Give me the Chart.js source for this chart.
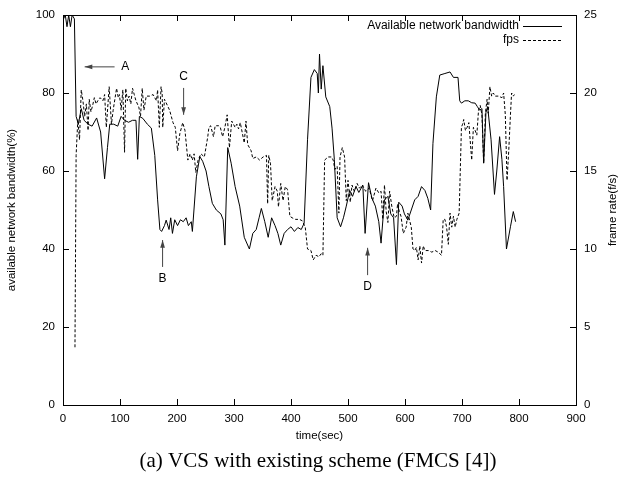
<!DOCTYPE html>
<html>
<head>
<meta charset="utf-8">
<script src="https://cdn.jsdelivr.net/npm/chart.js@4.4.0/dist/chart.umd.min.js"></script>
<style>
body{margin:0;background:#fff;}
#wrap{width:625px;height:479px;position:relative;}
</style>
</head>
<body>
<div id="wrap"><canvas id="vcsChart"></canvas></div>
<script>

// available network bandwidth (%) - solid line
const bwTime = [1,4,7,10,13,16,20,23,27,32,37,44,51,59,66,73,78,82,89,96,102,108,115,122,128,131,134,140,148,155,161,166,170,173,178,181,186,189,192,196,201,206,211,216,220,225,227,234,240,245,251,256,262,269,277,281,284,289,295,302,310,318,327,333,339,344,348,354,360,366,372,377,382,388,394,400,406,412,418,423,429,435,441,446,448,450,453,456,461,468,472,476,481,487,492,497,503,508,514,519,526,530,536,542,548,554,558,564,570,575,580,585,589,595,599,605,611,617,623,629,635,640,645,649,655,661,670,679,685,693,696,699,705,711,717,723,727,731,735,738,742,745,751,757,761,766,770,773,778,785,790,794];
const bwValues = [99,100,97,100,97,100,99,74,72,76,73,72,71.5,73.6,70,58,66,72,72,71.5,74,73,72.5,73,73,63,74,73.5,72,71,64,52.6,45,44.5,46,47.4,45,48,44,47.5,46,47.5,47,48,46,47,44.5,58.5,63.7,62.5,60,56,51.7,50,49,47.5,41,66,62,56,51,43,40,44,45,48,50.4,47,43,48,46,44,41,44,45,45.7,44.5,45.5,45,46.6,68,84,86,85,80,90,81,87,79,76.5,71,63,48,45.7,48,51,55,53.5,56,54.5,56.4,44,57,53,51,47,41.5,52.6,53.5,49,48,36,52,51,49,47.4,50,52.6,53.5,56,55,53,50,67,79,84.6,85,85.4,84,84,78,77.4,78,78,77.5,77.4,76.5,75.6,76,62,75,76.5,68,54,60,68.8,63,56,40,45.7,49.6,47];

// frame rate (f/s) - dashed line
const fpsTime = [21,23,26,29,32,35,38,41,44,46,49,52,55,58,61,65,70,73,76,81,85,88,94,97,99,102,105,108,110,113,116,119,122,125,128,133,136,139,142,146,152,158,164,166,169,172,174,175,178,187,193,197,201,205,208,210,214,219,223,227,230,233,237,242,248,254,256,259,264,267,273,276,280,284,288,292,296,302,305,308,311,318,321,324,330,333,339,345,351,357,359,361,364,367,372,376,378,382,386,390,394,398,402,408,415,420,425,429,435,439,444,449,453,456,459,465,471,474,477,481,484,486,490,494,497,500,504,507,511,516,520,525,531,537,543,549,554,558,561,564,567,570,573,577,581,585,587,590,593,597,602,605,611,614,617,620,623,626,629,632,635,641,647,653,658,664,667,670,673,676,679,682,685,688,691,695,699,701,703,706,709,712,717,720,723,726,729,732,735,738,741,744,746,749,752,755,758,764,770,773,776,779,782,785,787,790,792];
const fpsValues = [3.7,16,18.3,17,20.2,19.5,18.5,19.3,17.6,19.6,18.8,19.2,19.7,19.3,19.5,19.7,19.5,19.9,17.8,20.4,18,18.9,20.3,19.7,19.9,18.9,20.2,16.2,20.3,19.5,19.8,19.3,20.3,19.9,19.5,19.1,18.5,20.3,18.9,19.8,19.8,19.9,19.5,20.2,17.8,20.4,20,17.8,19.6,18.9,18.1,17.8,16.3,17.4,17.8,18.1,17.6,15.7,16.1,15.7,16.1,14.9,15.7,16.1,15.9,17.2,17.8,17.9,17.2,17.9,17.9,17.8,17.2,17.8,18.6,16.5,18.2,17.8,18,17.7,18.1,16.8,18.2,16.7,16.3,15.8,15.9,15.7,15.9,16,12.9,16,15.5,13.1,14,13.7,12.7,14.2,13.1,14,13.8,12.1,12,11.9,11.9,11.8,11.4,10,9.9,9.3,9.6,9.5,9.7,9.6,15.7,15.9,15.9,15.7,15.1,15.3,12.3,15.9,16.5,15.9,13.1,14.4,13,14.1,13.7,14.2,13.9,14.1,13.7,13.9,13.1,13.9,13.6,13.7,11.9,14.1,12.4,11.7,13.7,12.7,12,12.1,12.9,12.4,12.1,11,11.4,12.3,11.4,10,9.9,10.1,9.3,10.2,9.1,10.2,9.9,9.9,9.8,9.9,9.8,9.6,11.9,11.9,11.4,10.3,12.3,11.4,12.1,11.4,11.9,12.3,17.8,18,18.3,17.6,17.8,18.1,15.7,17.8,17.6,17.3,18.9,19.2,18.6,15.5,18.7,19.6,18.7,20.4,19.8,20,19.8,19.8,19.7,20,18.6,14.4,16.3,18.6,20,19.8,19.9];

const xTicks = [100,200,300,400,500,600,700,800];
const yTicks = [20,40,60,80];
const y2Ticks = [5,10,15,20];

// arrows: label, arrow from (x, bw), arrow to (x, bw), label position
const notes = [
  {label:"A", fromX:90.5, fromY:86.7, toX:38, toY:86.7, tx:109, ty:86.7},
  {label:"B", fromX:174.7, fromY:35.4, toX:174.7, toY:42.3, tx:174.7, ty:32.4},
  {label:"C", fromX:211.6, fromY:81.3, toX:211.6, toY:74.4, tx:211.6, ty:84.3},
  {label:"D", fromX:534.4, fromY:33.3, toX:534.4, toY:40.3, tx:534.4, ty:30.3}
];

const sans = "'Liberation Sans', Arial, sans-serif";

function pts(t, v){
  return t.map((x,i) => ({x:x, y:v[i]}));
}

const gnuplotDecor = {
  id:"gnuplotDecor",
  afterDraw(chart){
    const ctx = chart.ctx;
    const a = chart.chartArea;
    const sx = chart.scales.x, sy = chart.scales.y, sy2 = chart.scales.y2;
    ctx.save();
    ctx.strokeStyle = "#000";
    ctx.lineWidth = 1;
    ctx.strokeRect(Math.round(a.left)+0.5, Math.round(a.top)+0.5, Math.round(a.right-a.left), Math.round(a.bottom-a.top));
    ctx.beginPath();
    xTicks.forEach(v => {
      const p = Math.round(sx.getPixelForValue(v))+0.5;
      ctx.moveTo(p, a.bottom); ctx.lineTo(p, a.bottom-6);
      ctx.moveTo(p, a.top); ctx.lineTo(p, a.top+6);
    });
    yTicks.forEach(v => {
      const p = Math.round(sy.getPixelForValue(v))+0.5;
      ctx.moveTo(a.left, p); ctx.lineTo(a.left+6, p);
    });
    y2Ticks.forEach(v => {
      const p = Math.round(sy2.getPixelForValue(v))+0.5;
      ctx.moveTo(a.right, p); ctx.lineTo(a.right-6, p);
    });
    ctx.stroke();

    // legend
    ctx.fillStyle = "#000";
    ctx.font = "12px " + sans;
    ctx.textAlign = "right";
    ctx.textBaseline = "middle";
    ctx.fillText("Available network bandwidth", 519, 26);
    ctx.fillText("fps", 519, 40);
    ctx.beginPath();
    ctx.moveTo(523, 26.5); ctx.lineTo(562, 26.5);
    ctx.stroke();
    ctx.setLineDash([3,2]);
    ctx.beginPath();
    ctx.moveTo(523, 40.5); ctx.lineTo(562, 40.5);
    ctx.stroke();
    ctx.setLineDash([]);

    // annotations
    ctx.strokeStyle = "#444";
    ctx.fillStyle = "#444";
    notes.forEach(n => {
      const x1 = sx.getPixelForValue(n.fromX), y1 = sy.getPixelForValue(n.fromY);
      const x2 = sx.getPixelForValue(n.toX), y2 = sy.getPixelForValue(n.toY);
      const ang = Math.atan2(y2-y1, x2-x1);
      ctx.beginPath();
      ctx.moveTo(x1, y1); ctx.lineTo(x2, y2);
      ctx.stroke();
      ctx.beginPath();
      ctx.moveTo(x2, y2);
      ctx.lineTo(x2 - 8*Math.cos(ang-0.3), y2 - 8*Math.sin(ang-0.3));
      ctx.lineTo(x2 - 8*Math.cos(ang+0.3), y2 - 8*Math.sin(ang+0.3));
      ctx.closePath();
      ctx.fill();
    });
    ctx.fillStyle = "#000";
    ctx.font = "12px " + sans;
    ctx.textAlign = "center";
    notes.forEach(n => {
      ctx.fillText(n.label, sx.getPixelForValue(n.tx), sy.getPixelForValue(n.ty));
    });

    // right axis title
    ctx.font = "11.5px " + sans;
    ctx.save();
    ctx.translate(613, (a.top+a.bottom)/2);
    ctx.rotate(-Math.PI/2);
    ctx.fillText("frame rate(f/s)", 0, 0);
    ctx.restore();

    // caption
    ctx.font = "21px 'Liberation Serif', 'Times New Roman', serif";
    ctx.fillText("(a) VCS with existing scheme (FMCS [4])", 318, 461);
    ctx.restore();
  }
};

new Chart("vcsChart",{
  type:"line",
  data:{
    datasets:[{
      label:"Available network bandwidth",
      data:pts(bwTime, bwValues),
      yAxisID:"y",
      borderColor:"#000",
      borderWidth:1,
      pointRadius:0,
      fill:false,
      tension:0
    },{
      label:"fps",
      data:pts(fpsTime, fpsValues),
      yAxisID:"y2",
      borderColor:"#000",
      borderWidth:1,
      borderDash:[3,2],
      pointRadius:0,
      fill:false,
      tension:0
    }]
  },
  plugins:[gnuplotDecor],
  options:{
    responsive:true,
    maintainAspectRatio:false,
    animation:false,
    layout:{padding:{top:15,bottom:32,left:0,right:0}},
    plugins:{legend:{display:false},tooltip:{enabled:false}},
    scales:{
      x:{
        type:"linear",
        position:"bottom",
        min:0, max:900,
        ticks:{stepSize:100, color:"#000", font:{family:sans,size:11.5}, padding:7, maxRotation:0},
        grid:{display:false, drawTicks:false},
        border:{display:false},
        title:{display:true, text:"time(sec)", color:"#000", font:{family:sans,size:11.5}},
        afterFit(s){ s.height = 42; }
      },
      y:{
        position:"left",
        min:0, max:100,
        ticks:{stepSize:20, color:"#000", font:{family:sans,size:11.5}, padding:8},
        grid:{display:false, drawTicks:false},
        border:{display:false},
        title:{display:true, text:"available network bandwidth(%)", color:"#000", font:{family:sans,size:11.5}, padding:{top:5,bottom:4}},
        afterFit(s){ s.width = 63; }
      },
      y2:{
        position:"right",
        min:0, max:25,
        ticks:{stepSize:5, color:"#000", font:{family:sans,size:11.5}, padding:8},
        grid:{display:false, drawTicks:false},
        border:{display:false},
        afterFit(s){ s.width = 49; }
      }
    }
  }
});

</script>
</body>
</html>
